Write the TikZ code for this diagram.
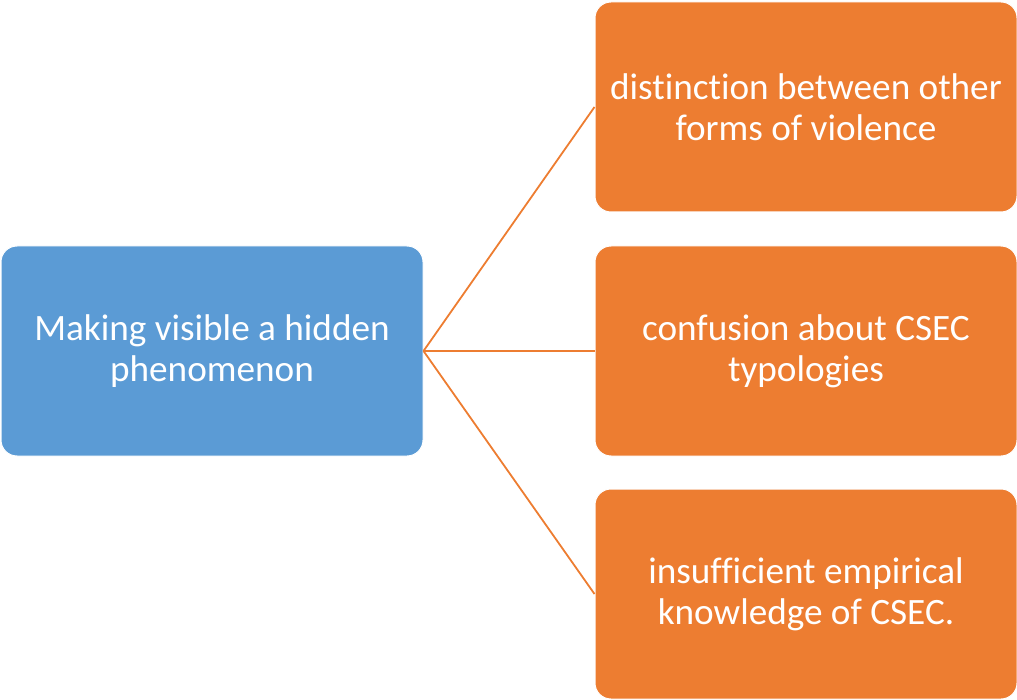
\documentclass[tikz,border=0pt]{standalone}
\usepackage{fontspec}
\setmainfont[Ligatures=NoCommon]{Carlito}
\usepackage{xcolor}
\definecolor{cblue}{HTML}{5B9BD5}
\definecolor{corange}{HTML}{ED7D31}

\tikzset{
  topic/.style={fill=cblue, draw=white, line width=0.5pt, rounded corners=8pt,
    minimum width=211pt, minimum height=105pt, text=white, align=center,
    font=\fontsize{18.6}{20.5}\selectfont},
  leaf/.style={topic, fill=corange},
  branch/.style={draw=corange, line width=0.9pt}
}

\begin{document}
\begin{tikzpicture}[x=0.5pt,y=-0.5pt]
      \useasboundingbox (0,0) rectangle (1017,700);

      \node[topic] (hidden) at (212,351) {Making visible a hidden\\phenomenon};

      \node[leaf] (violence) at (806,107) {distinction between other\\forms of violence};
      \node[leaf] (typology) at (806,351) {confusion about CSEC\\typologies};
      \node[leaf] (knowledge) at (806,594) {insufficient empirical\\knowledge of CSEC.};

      \draw[branch] (hidden.east) -- (violence.west);
      \draw[branch] (hidden.east) -- (typology.west);
      \draw[branch] (hidden.east) -- (knowledge.west);
    \end{tikzpicture}
\end{document}
